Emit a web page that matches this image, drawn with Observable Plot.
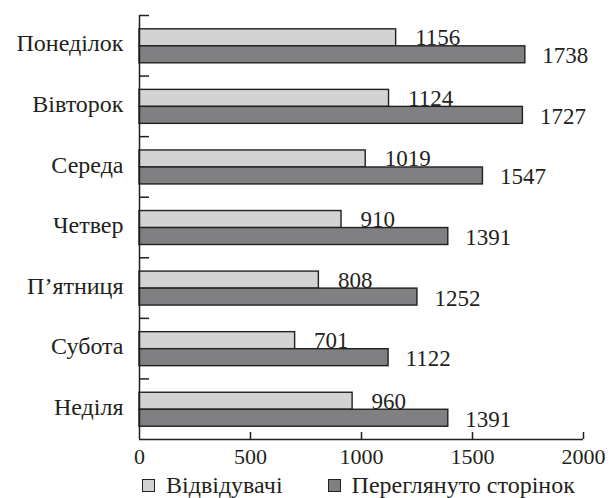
<!DOCTYPE html>
<html>
<head>
<meta charset="utf-8">
<script src="https://cdn.jsdelivr.net/npm/d3@7"></script>
<script src="https://cdn.jsdelivr.net/npm/@observablehq/plot@0.6"></script>
</head>
<body style="margin:0;padding:0;background:#fff;font-family:'Liberation Serif'">
<div style="width:613px;font-family:'Liberation Serif';color:#231f20">
  <div id="chart" style="height:470px"></div>
  <div id="legend" style="display:flex;align-items:center;height:28px;padding-left:142px;padding-top:2px;box-sizing:border-box;font-size:24px;font-family:'Liberation Serif'">
    <div style="display:flex;align-items:center"><span id="sw0" style="width:11px;height:11px;border:1px solid #231f20;margin-right:11px"></span><span id="lab0" style="font-family:'Liberation Serif'">Відвідувачі</span></div>
    <div style="display:flex;align-items:center;margin-left:45px"><span id="sw1" style="width:11px;height:11px;border:1px solid #231f20;margin-right:11px"></span><span id="lab1" style="font-family:'Liberation Serif'">Переглянуто сторінок</span></div>
  </div>
</div>
<script>
const days = ["Понеділок", "Вівторок", "Середа", "Четвер", "П’ятниця", "Субота", "Неділя"];
const visitors = [1156, 1124, 1019, 910, 808, 701, 960];
const pageviews = [1738, 1727, 1547, 1391, 1252, 1122, 1391];
const xTicks = [0, 500, 1000, 1500, 2000];
const seriesNames = ["Відвідувачі", "Переглянуто сторінок"];
const seriesColors = ["#d3d3d4", "#808083"];

const ink = "#231f20";
const serif = "Liberation Serif";
const rows = days.map((d, i) => ({day: d, i, visitors: visitors[i], pageviews: pageviews[i]}));
const bandTicks = days.map((d, i) => i);

const plot = Plot.plot({
  width: 613,
  height: 470,
  marginLeft: 139,
  marginRight: 30,
  marginTop: 15,
  marginBottom: 31,
  style: {fontFamily: serif, color: ink, background: "#fff"},
  x: {domain: [0, 2000], axis: null},
  y: {domain: [0, days.length], reverse: true, axis: null},
  marks: [
    Plot.rect(rows, {x1: () => 0, x2: "visitors", y1: d => d.i + 0.228, y2: d => d.i + 0.509, fill: seriesColors[0], stroke: ink, strokeWidth: 1.4}),
    Plot.rect(rows, {x1: () => 0, x2: "pageviews", y1: d => d.i + 0.509, y2: d => d.i + 0.789, fill: seriesColors[1], stroke: ink, strokeWidth: 1.4}),
    Plot.text(rows, {x: "visitors", y: d => d.i + 0.509, text: d => String(d.visitors), textAnchor: "start", lineAnchor: "bottom", dx: 19, dy: -1, fontSize: 23, fontFamily: serif, fill: ink}),
    Plot.text(rows, {x: "pageviews", y: d => d.i + 0.789, text: d => String(d.pageviews), textAnchor: "start", lineAnchor: "bottom", dx: 17, dy: 0, fontSize: 23, fontFamily: serif, fill: ink}),
    Plot.text(rows, {x: () => 0, y: d => d.i + 0.5, text: "day", textAnchor: "end", dx: -16, dy: -2, fontSize: 24, fontFamily: serif, fill: ink}),
    Plot.ruleX([0], {stroke: ink, strokeWidth: 1.5}),
    Plot.ruleY([days.length], {stroke: ink, strokeWidth: 1.5}),
    Plot.ruleY(bandTicks, {y: d => d, x1: () => 0, x2: () => 0, insetRight: -10, stroke: ink, strokeWidth: 1.5}),
    Plot.ruleX(xTicks.slice(1), {x: d => d, y1: () => days.length, y2: () => days.length, insetTop: -7, stroke: ink, strokeWidth: 1.5}),
    Plot.axisX(xTicks, {tickSize: 0, tickPadding: 9, fontSize: 22, fontFamily: serif, fill: ink, anchor: "bottom", tickFormat: d => String(d)})
  ]
});

document.getElementById("chart").appendChild(plot);
seriesNames.forEach((name, k) => {
  document.getElementById("sw" + k).style.background = seriesColors[k];
  document.getElementById("lab" + k).textContent = name;
});
</script>
</body>
</html>
